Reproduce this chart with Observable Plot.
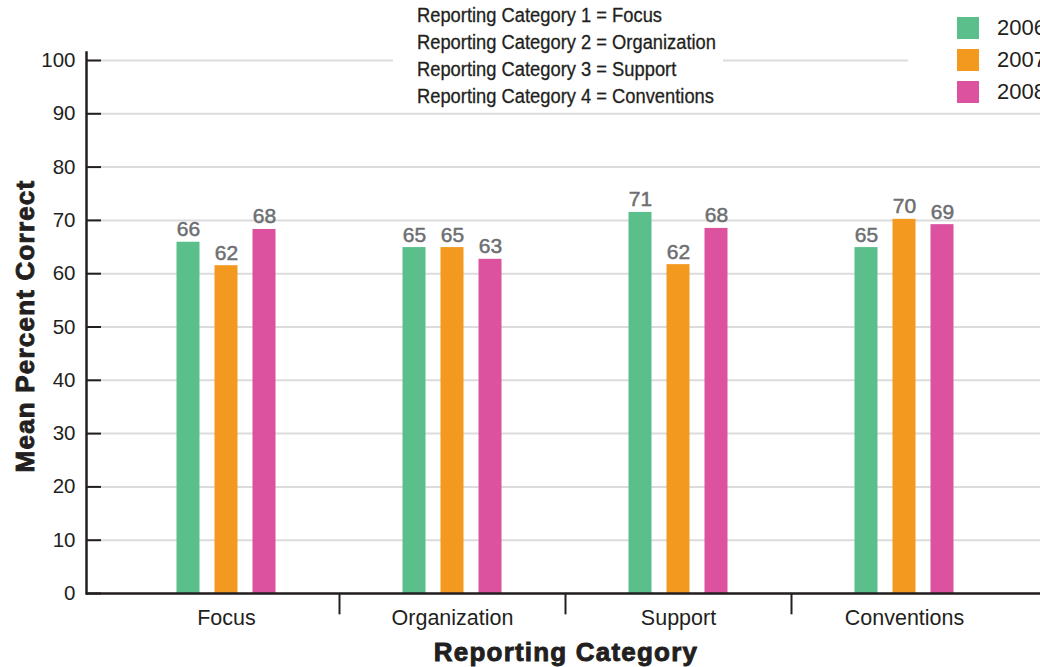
<!DOCTYPE html>
<html><head><meta charset="utf-8">
<script src="https://cdn.jsdelivr.net/npm/d3@7"></script>
<script src="https://cdn.jsdelivr.net/npm/@observablehq/plot@0.6"></script>
<style>
html,body{margin:0;padding:0;background:#fff;overflow:hidden;width:1040px;height:667px;}
#wrap{position:relative;width:1040px;height:667px;font-family:"Liberation Sans",Arial,sans-serif;color:#231f20;overflow:hidden;}
.note{position:absolute;left:393px;top:0;width:330px;height:108px;background:#fff;}
.note div{position:absolute;left:24px;font-family:"Liberation Sans",Arial,sans-serif;font-size:20px;white-space:nowrap;transform-origin:0 50%;-webkit-text-stroke:0.3px #231f20;}
.legend{position:absolute;left:908px;top:0;width:140px;height:110px;background:#fff;}
.legend .row{position:absolute;left:49px;height:22px;font-size:22px;white-space:nowrap;}
.legend .sw{position:absolute;left:0;top:0;width:22px;height:22px;}
.legend .lb{position:absolute;left:40px;top:0;line-height:22px;}
.ytitle{position:absolute;left:25px;top:326px;transform:translate(-50%,-50%) rotate(-90deg);font-weight:bold;font-size:26px;letter-spacing:1.2px;-webkit-text-stroke:0.9px #231f20;white-space:nowrap;}
.xtitle{position:absolute;left:566px;top:652px;transform:translate(-50%,-50%);font-weight:bold;font-size:26px;letter-spacing:1.2px;-webkit-text-stroke:0.9px #231f20;white-space:nowrap;}
</style></head>
<body><div id="wrap"></div>
<script>
const categories = ["Focus", "Organization", "Support", "Conventions"];
const years = ["2006", "2007", "2008"];
const values2006 = [65.9, 64.9, 71.5, 64.9];
const values2007 = [61.5, 64.9, 61.7, 70.2];
const values2008 = [68.3, 62.7, 68.5, 69.2];
const labels2006 = [66, 65, 71, 65];
const labels2007 = [62, 65, 62, 70];
const labels2008 = [68, 63, 68, 69];
const colors = ["#5bbf8c", "#f4991f", "#dc529f"];
const yTicks = [0, 10, 20, 30, 40, 50, 60, 70, 80, 90, 100];
const notes = ["Reporting Category 1 = Focus", "Reporting Category 2 = Organization", "Reporting Category 3 = Support", "Reporting Category 4 = Conventions"];

const seriesValues = [values2006, values2007, values2008];
const seriesLabels = [labels2006, labels2007, labels2008];
const rows = years.map((yr, i) => categories.map((c, j) => ({category: c, year: yr, value: seriesValues[i][j], label: seriesLabels[i][j]})));

const step = 38, barW = 23, band = 226;
const barMarks = [];
rows.forEach((r, i) => {
  barMarks.push(Plot.barY(r, {x: "category", y: "value", fill: colors[i], dx: (i - 1) * step, insetLeft: (band - barW) / 2, insetRight: (band - barW) / 2}));
  barMarks.push(Plot.text(r, {x: "category", y: "value", text: d => String(d.label), dx: (i - 1) * step, dy: -6, lineAnchor: "bottom", fill: "#6d6e71", stroke: "#6d6e71", strokeWidth: 0.5, fontSize: 21, fontFamily: "Liberation Sans, Arial, sans-serif"}));
});

const chart = Plot.plot({
  width: 1040, height: 667,
  marginLeft: 86, marginRight: 0, marginTop: 52, marginBottom: 74,
  style: {fontFamily: "Liberation Sans, Arial, sans-serif", color: "#231f20", background: "transparent"},
  x: {domain: categories, paddingInner: 0, paddingOuter: 0.1106, align: 0.54, label: null},
  y: {domain: [0, 101.5], label: null},
  marks: [
    Plot.gridY(yTicks, {stroke: "#dcdcdc", strokeOpacity: 1, strokeWidth: 2}),
    ...barMarks,
    Plot.ruleY([0], {stroke: "#231f20", strokeWidth: 2.5}),
    Plot.ruleX(categories.slice(1), {dx: -band / 2, y1: 0, y2: -4, stroke: "#231f20", strokeWidth: 2}),
    Plot.frame({anchor: "left", stroke: "#231f20", strokeWidth: 2.5}),
    Plot.axisY(yTicks, {tickSize: 15, dx: 15, text: null, stroke: "#231f20", strokeWidth: 2, label: null}),
    Plot.axisY(yTicks, {tickSize: 0, tickPadding: 11, fontSize: 20.5, fill: "#231f20", label: null}),
    Plot.axisX({tickSize: 0, tickPadding: 16, fontSize: 21.5, fill: "#231f20", label: null})
  ]
});

const wrap = document.getElementById("wrap");
wrap.appendChild(chart);

const note = document.createElement("div");
note.className = "note";
const noteEls = notes.map((t, i) => {
  const d = document.createElement("div");
  d.textContent = t;
  d.style.top = (4 + i * 27) + "px";
  note.appendChild(d);
  return d;
});
wrap.appendChild(note);
const w2 = noteEls[1].getBoundingClientRect().width;
const sx = 299 / w2;
noteEls.forEach(d => d.style.transform = `scaleX(${sx})`);

const legend = document.createElement("div");
legend.className = "legend";
years.forEach((yr, i) => {
  const row = document.createElement("div");
  row.className = "row";
  row.style.top = (17 + i * 32) + "px";
  const sw = document.createElement("div");
  sw.className = "sw"; sw.style.background = colors[i];
  const lb = document.createElement("div");
  lb.className = "lb"; lb.textContent = yr;
  row.appendChild(sw); row.appendChild(lb);
  legend.appendChild(row);
});
wrap.appendChild(legend);

const yt = document.createElement("div");
yt.className = "ytitle"; yt.textContent = "Mean Percent Correct";
wrap.appendChild(yt);
const xt = document.createElement("div");
xt.className = "xtitle"; xt.textContent = "Reporting Category";
wrap.appendChild(xt);
</script></body></html>
